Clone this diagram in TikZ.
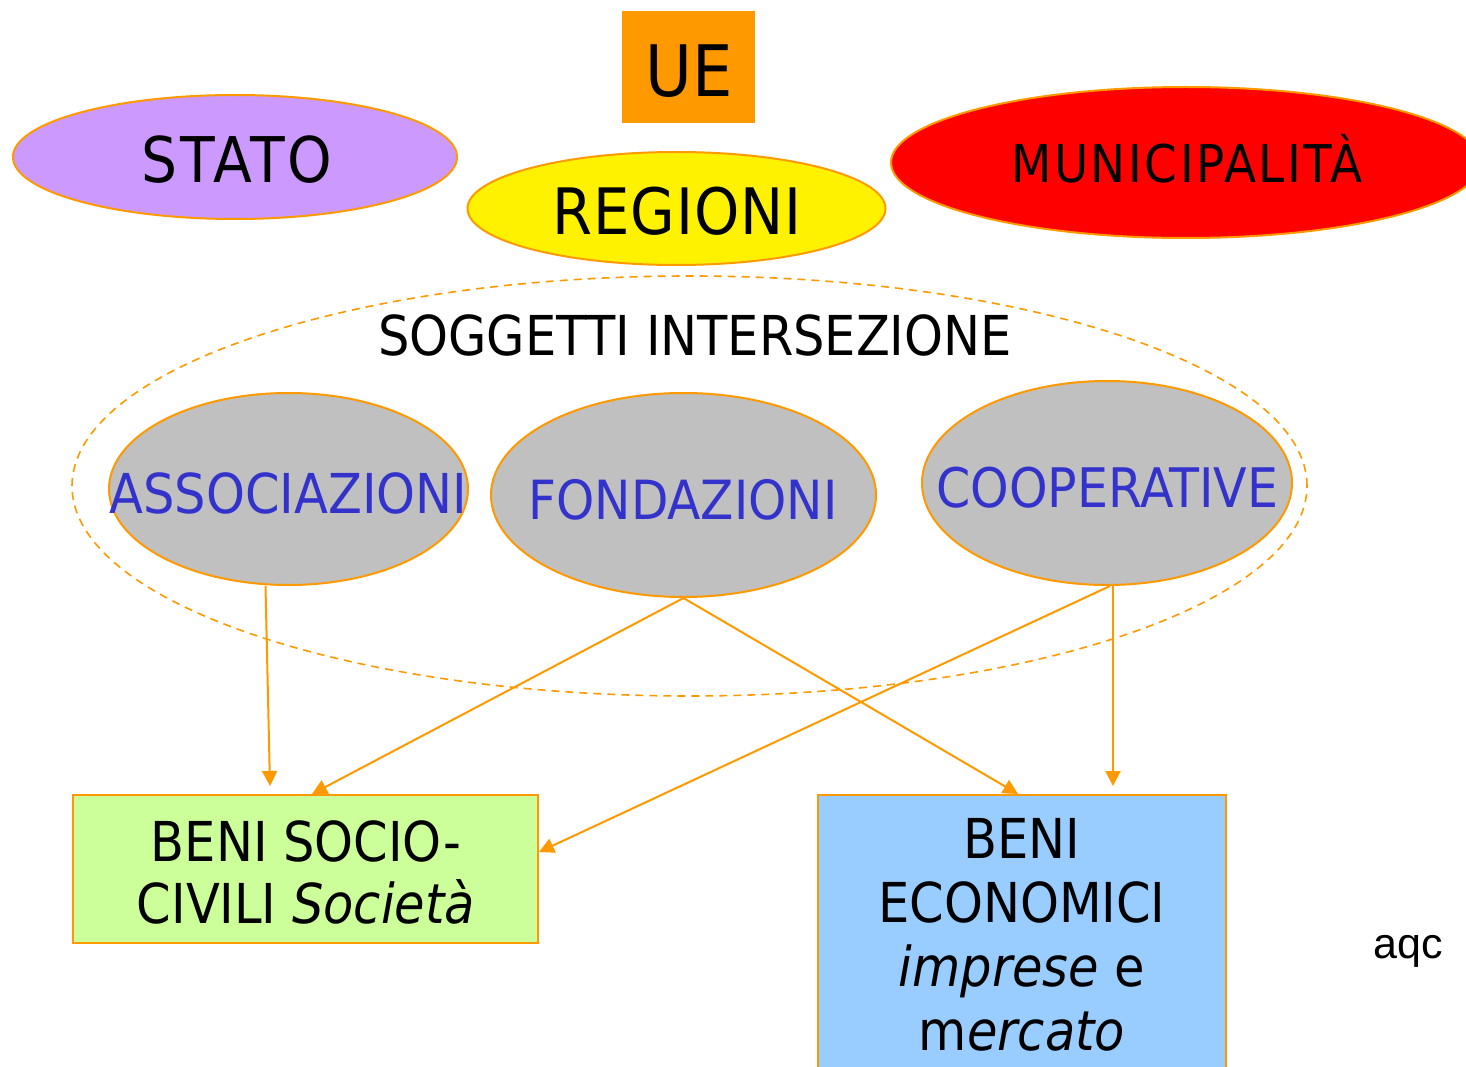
\documentclass[tikz,border=0pt]{standalone}
\usepackage{fontspec}
\setmainfont{DejaVu Sans Condensed}
\newfontfamily\aqcfont{Liberation Sans}
\usetikzlibrary{shapes.geometric,arrows.meta}
\definecolor{org}{HTML}{FF9900}
\definecolor{lilac}{HTML}{CC99FF}
\definecolor{grn}{HTML}{CCFF99}
\definecolor{blu}{HTML}{99CCFF}
\definecolor{txtblue}{HTML}{3333CC}
\definecolor{gry}{HTML}{C0C0C0}
\tikzset{
  ell/.style={ellipse, draw=org, line width=2pt, inner sep=0pt},
  lbl/.style={anchor=base, inner sep=0pt},
  boxn/.style={rectangle, draw=org, line width=2pt, inner sep=0pt},
  conn/.style={draw=org, line width=2pt, -{Triangle[length=15pt,width=15pt]}},
}
\newcommand{\fs}[1]{\fontsize{#1}{#1}\selectfont}
\newcommand{\lsp}[1]{\addfontfeature{LetterSpace=#1}}
\begin{document}
\begin{tikzpicture}[x=1pt,y=-1pt]
\useasboundingbox (0,0) rectangle (1466,1067);
% top
\node[rectangle, fill=org, minimum width=133pt, minimum height=112pt, inner sep=0pt] (ue) at (688.5,67) {};
\node[lbl] (uet) at (689,97) {\fs{71}UE};
\node[ell, fill=lilac, minimum width=444pt, minimum height=124pt] (stato) at (235,157) {};
\node[lbl] (statot) at (237,183) {\fs{63}\lsp{5}STATO};
\node[ell, fill=yellow, minimum width=418pt, minimum height=113pt] (reg) at (676.5,208.5) {};
\node[lbl] (regt) at (677,235) {\fs{64}\lsp{1.5}REGIONI};
\node[ell, fill=red, minimum width=590pt, minimum height=151pt] (mun) at (1186,162.5) {};
\node[lbl] (munt) at (1187,183) {\fs{52}\lsp{5}MUNICIPALIT\`A};
% intersection
\node[ellipse, draw=org, line width=1.6pt, dash pattern=on 8pt off 6pt, minimum width=1235pt, minimum height=420pt, inner sep=0pt] (inter) at (689.5,486) {};
\node[lbl] (intert) at (695,355) {\fs{55}SOGGETTI INTERSEZIONE};
\node[ell, fill=gry, minimum width=359pt, minimum height=192pt] (assoc) at (288.5,489) {};
\node[lbl, text=txtblue] (assoct) at (288.5,513) {\fs{55}ASSOCIAZIONI};
\node[ell, fill=gry, minimum width=385pt, minimum height=204pt] (fond) at (683.5,495) {};
\node[lbl, text=txtblue] (fondt) at (683,519) {\fs{54}FONDAZIONI};
\node[ell, fill=gry, minimum width=370pt, minimum height=204pt] (coop) at (1107,483) {};
\node[lbl, text=txtblue] (coopt) at (1107.5,507) {\fs{54.5}COOPERATIVE};
% boxes
\node[boxn, fill=grn, minimum width=465pt, minimum height=148pt] (soc) at (305.5,869) {};
\node[anchor=north, inner sep=0pt, align=center, font=\fontsize{55}{62}\selectfont] (soct) at (306,820) {BENI SOCIO-\\CIVILI \textit{Societ\`a}};
\node[boxn, fill=blu, minimum width=408pt, minimum height=310pt] (eco) at (1022,950) {};
\node[anchor=north, inner sep=0pt, align=center, font=\fontsize{55}{64}\selectfont] (ecot) at (1022,818) {BENI\\ECONOMICI\\\textit{imprese} e\\m\textit{ercato}};
\node[lbl] (aqc) at (1408.5,958) {\aqcfont\fs{43}aqc};
% connectors
\draw[conn] ([xshift=-23pt]assoc.south) -- ([xshift=-35.5pt,yshift=8pt]soc.north);
\draw[conn] (fond.south) -- ([xshift=6.5pt]soc.north);
\draw[conn] (fond.south) -- ([xshift=-4pt]eco.north);
\draw[conn] ([xshift=3pt]coop.south) -- ([yshift=17pt]soc.east);
\draw[conn] ([xshift=6pt]coop.south) -- ([xshift=91pt,yshift=8pt]eco.north);
\end{tikzpicture}
\end{document}
